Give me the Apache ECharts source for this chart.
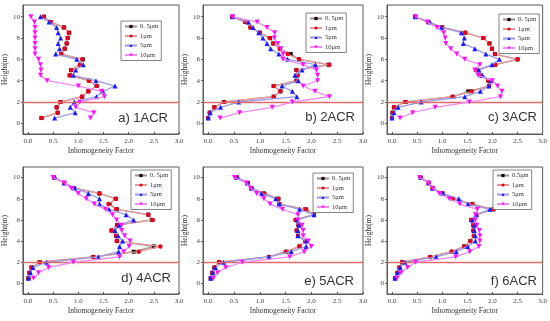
<!DOCTYPE html>
<html><head><meta charset="utf-8">
<script src="https://cdn.jsdelivr.net/npm/echarts@6/dist/echarts.min.js"></script>
<style>html,body{margin:0;padding:0;background:#fff}#c{width:550px;height:321px}</style>
</head><body><div id="c"></div>
<script>
var heights = [0.5,1,1.5,2,2.5,3,3.5,4,4.5,5,5.5,6,6.5,7,7.5,8,8.5,9,9.5,10];
var xTicks = [0,0.5,1,1.5,2,2.5,3];
var yTicks = [0,2,4,6,8,10];
var panelLabels = ['a) 1ACR','b) 2ACR','c) 3ACR','d) 4ACR','e) 5ACR','f) 6ACR'];
var seriesNames = ['0. 5μm','1μm','5μm','10μm'];
var seriesNamesF = ['0.5μm','1μm','5μm','10μm'];

// panel a) 1ACR
var a_05 = [0.27,0.59,0.57,0.65,1.08,1.2,1.36,1.22,0.83,0.86,1.04,1.09,0.66,0.73,0.77,0.79,0.82,0.71,0.45,0.32];
var a_1  = [0.27,0.59,0.57,0.64,1.07,1.2,1.37,1.21,0.83,0.86,1.03,1.08,0.66,0.73,0.77,0.79,0.81,0.72,0.45,0.31];
var a_5  = [0.53,0.94,0.84,0.92,1.36,1.49,1.73,1.35,0.9,0.95,1.1,0.97,0.55,0.63,0.6,0.65,0.6,0.57,0.42,0.25];
var a_10 = [1.24,1.31,0.95,1.03,1.52,1.46,1.0,0.38,0.25,0.26,0.25,0.21,0.14,0.14,0.14,0.14,0.14,0.14,0.13,0.06];
// panel b) 2ACR
var b_05 = [0.0,0.03,0.12,0.31,1.27,1.4,1.27,1.71,1.73,1.71,2.33,1.76,1.6,1.39,1.26,1.2,1.0,0.82,0.72,0.47];
var b_1  = [0.0,0.03,0.12,0.31,1.27,1.4,1.27,1.71,1.73,1.71,2.35,1.76,1.54,1.39,1.26,1.19,1.0,0.82,0.72,0.47];
var b_5  = [0.0,0.04,0.24,0.59,1.72,1.63,1.43,1.75,1.68,1.82,2.08,1.54,1.37,1.21,1.14,1.06,0.98,0.87,0.78,0.47];
var b_10 = [0.23,0.61,1.24,1.63,2.35,2.07,1.84,2.12,2.12,2.1,1.84,1.45,1.45,1.41,1.35,1.28,1.29,1.14,0.95,0.47];
// panel c) 3ACR
var c_05 = [0.0,0.01,0.04,0.27,1.22,1.52,1.93,1.92,1.77,1.67,2.05,2.5,2.05,1.99,1.94,1.82,1.46,1.0,0.72,0.46];
var c_1  = [0.0,0.01,0.04,0.26,1.2,1.59,1.93,1.92,1.77,1.67,2.06,2.5,2.05,1.99,1.94,1.82,1.46,1.0,0.72,0.46];
var c_5  = [0.0,0.04,0.12,0.58,1.45,1.76,1.93,1.97,1.8,1.73,1.99,2.14,1.87,1.65,1.42,1.44,1.38,0.98,0.75,0.47];
var c_10 = [0.16,0.41,0.86,1.54,2.16,2.19,2.1,2.0,1.71,1.65,1.75,1.45,1.29,1.17,1.07,1.06,1.03,0.9,0.7,0.47];
// panel d) 4ACR
var d_05 = [0.01,0.03,0.07,0.23,1.3,2.1,2.5,1.77,1.75,1.66,1.77,2.46,2.39,1.77,1.62,1.74,1.42,0.92,0.72,0.52];
var d_1  = [0.01,0.03,0.07,0.24,1.29,2.2,2.63,1.76,1.75,1.66,1.78,2.48,2.39,1.75,1.6,1.75,1.42,0.92,0.72,0.52];
var d_5  = [0.01,0.05,0.1,0.37,1.4,1.8,1.82,1.88,1.79,1.73,1.81,2.1,1.95,1.61,1.42,1.42,1.2,0.93,0.72,0.54];
var d_10 = [0.11,0.21,0.41,0.9,1.82,1.9,2.01,2.03,1.92,1.86,1.86,1.76,1.68,1.54,1.32,1.16,1.0,0.86,0.72,0.5];
// panel e) 5ACR
var e_05 = [0.05,0.08,0.12,0.21,1.18,1.52,1.77,1.88,1.74,1.72,1.75,1.7,2.05,1.88,1.38,1.36,1.07,0.84,0.77,0.56];
var e_1  = [0.05,0.08,0.12,0.22,1.18,1.5,1.77,1.88,1.74,1.71,1.75,1.69,2.05,1.9,1.38,1.36,1.09,0.84,0.77,0.56];
var e_5  = [0.05,0.09,0.14,0.3,1.18,1.61,1.9,1.9,1.74,1.74,1.76,1.73,2.05,1.77,1.38,1.31,1.03,0.84,0.76,0.57];
var e_10 = [0.1,0.18,0.34,0.66,1.58,1.86,2.0,1.94,1.84,1.84,1.82,1.74,1.74,1.44,1.2,1.08,0.94,0.82,0.74,0.51];
// panel f) 6ACR
var f_05 = [0.06,0.11,0.15,0.2,0.76,1.19,1.44,1.56,1.63,1.62,1.62,1.58,1.68,2.02,1.6,1.21,1.01,0.81,0.73,0.57];
var f_1  = [0.06,0.11,0.15,0.2,0.76,1.19,1.44,1.56,1.63,1.62,1.62,1.58,1.68,2.02,1.6,1.21,1.01,0.81,0.73,0.57];
var f_5  = [0.06,0.11,0.16,0.26,0.88,1.28,1.51,1.66,1.66,1.64,1.64,1.6,1.68,1.95,1.51,1.33,1.01,0.81,0.73,0.58];
var f_10 = [0.1,0.18,0.31,0.47,1.27,1.55,1.73,1.75,1.75,1.74,1.69,1.66,1.66,1.7,1.35,1.14,0.94,0.81,0.73,0.55];

var panels = [
  [a_05,a_1,a_5,a_10],[b_05,b_1,b_5,b_10],[c_05,c_1,c_5,c_10],
  [d_05,d_1,d_5,d_10],[e_05,e_1,e_5,e_10],[f_05,f_1,f_5,f_10]
];

var SERIF = '"Liberation Serif","Times New Roman",serif';
var gridPos = [
  {left:20, top:5, width:159, height:129},
  {left:203, top:5, width:160, height:129},
  {left:387, top:5, width:159, height:129},
  {left:20, top:167, width:159, height:127},
  {left:203, top:167, width:160, height:127},
  {left:387, top:167, width:159, height:127}
];
var yMax = [11.1,11.1,11.1,11.0,11.0,11.0];
var legendPos = [
  {left:121, top:21},{left:306, top:13},{left:499, top:14},
  {left:131, top:170},{left:313, top:173},{left:493, top:170}
];
var labelPos = [
  {x:168,y:118},{x:355,y:117},{x:537,y:117},
  {x:171,y:278},{x:354,y:281},{x:537,y:281}
];

var markerSym = ['rect','circle','triangle','triangle'];
var markerRot = [0,0,0,180];
var markerSize = [4,4.5,5,5];
var markerCol = ['#000000','#e8001c','#1a1aff','#ff10ff'];
var lineCol = ['#a88a8a','#e29a9a','#9a9ae6','#f08cf0'];

var option = {
  animation:false,
  grid:[], xAxis:[], yAxis:[], series:[], legend:[], graphic:[]
};
gridPos.forEach(function(g,i){
  option.grid.push({left:g.left, top:g.top, width:g.width, height:g.height, show:true,
    borderColor:'#5a5a5a', borderWidth:1, backgroundColor:'transparent'});
  option.xAxis.push({type:'value', gridIndex:i, min:-0.1, max:3.0,
    name:'Inhomogeneity Factor', nameLocation:'middle', nameGap:13,
    nameTextStyle:{fontFamily:SERIF, fontSize:7.5, color:'#333'},
    axisLine:{show:true, onZero:false, lineStyle:{color:'#5a5a5a', width:1}},
    axisTick:{show:true, inside:true, length:2, customValues:xTicks, lineStyle:{color:'#5a5a5a'}},
    axisLabel:{customValues:xTicks, fontFamily:SERIF, fontSize:7, color:'#444', margin:4,
      formatter:function(v){return v.toFixed(1);}},
    splitLine:{show:false}});
  option.yAxis.push({type:'value', gridIndex:i, min:-1, max:yMax[i],
    name:'Height(m)', nameLocation:'middle', nameGap:10,
    nameTextStyle:{fontFamily:SERIF, fontSize:7.5, color:'#333'},
    axisLine:{show:true, onZero:false, lineStyle:{color:'#5a5a5a', width:1}},
    axisTick:{show:true, inside:false, length:2, customValues:yTicks, lineStyle:{color:'#5a5a5a'}},
    axisLabel:{customValues:yTicks, fontFamily:SERIF, fontSize:7, color:'#444', margin:3},
    splitLine:{show:false}});
  var names = (i===5) ? seriesNamesF : seriesNames;
  panels[i].forEach(function(vals,k){
    var s = {
      type:'line', name:names[k], xAxisIndex:i, yAxisIndex:i,
      data: heights.map(function(h,j){return [vals[j], h];}),
      symbol:markerSym[k], symbolRotate:markerRot[k], symbolSize:markerSize[k],
      itemStyle:{color:markerCol[k]},
      lineStyle:{color:lineCol[k], width:1.3},
      z:2+k
    };
    if(k===0){
      s.markLine = {symbol:'none', silent:true, label:{show:false}, animation:false,
        lineStyle:{color:'#e06a6a', width:1.4, type:'solid'}, data:[{yAxis:2}]};
    }
    option.series.push(s);
  });
  option.legend.push({left:legendPos[i].left, top:legendPos[i].top, orient:'vertical',
    data:names, itemWidth:12, itemHeight:4, itemGap:2.5, padding:[2,3,2,3],
    borderColor:'#666', borderWidth:0.8, backgroundColor:'#fff',
    textStyle:{fontFamily:SERIF, fontSize:6.5, color:'#333', padding:[0,0,0,-2]}});
  option.graphic.push({type:'text', x:labelPos[i].x, y:labelPos[i].y,
    style:{text:panelLabels[i], font:'13px "Liberation Sans", Arial, sans-serif', fill:'#333',
      textAlign:'right', textVerticalAlign:'middle'}});
});

var chart = echarts.init(document.getElementById('c'), null, {renderer:'canvas'});
chart.setOption(option);
</script>
</body></html>
